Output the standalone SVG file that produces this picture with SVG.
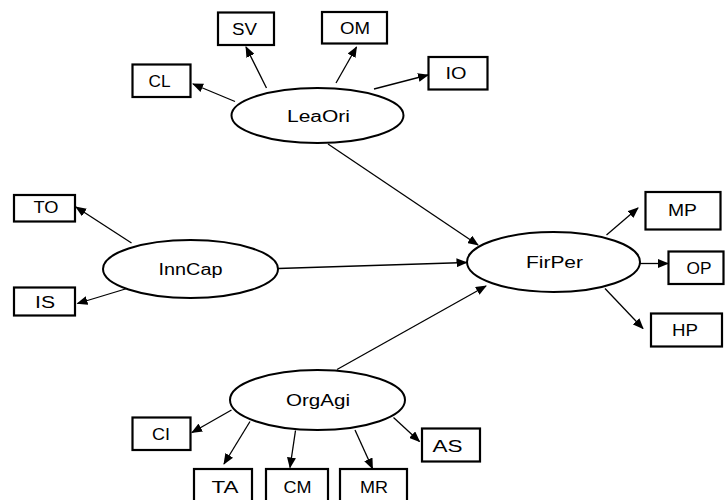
<svg xmlns="http://www.w3.org/2000/svg" width="725" height="500" viewBox="0 0 725 500">
<style>
.box{fill:#fff;stroke:#000;stroke-width:2.2}
.ell{fill:#fff;stroke:#000;stroke-width:2}
.lbl{font-family:"Liberation Sans",Arial,sans-serif;font-size:16px;fill:#000;text-anchor:middle;dominant-baseline:central}
.con line{stroke:#000;stroke-width:1.3;marker-end:url(#ah)}
</style>
<defs>
<marker id="ah" markerWidth="11" markerHeight="9" refX="10" refY="4.5" orient="auto" markerUnits="userSpaceOnUse">
<path d="M0,0 L11,4.5 L0,9 z" fill="#000"/>
</marker>
</defs>
<rect width="725" height="500" fill="#fff"/>
<g id="connectors" class="con">
<line x1="235" y1="101.5" x2="193" y2="84"/>
<line x1="266.5" y1="88" x2="246" y2="47"/>
<line x1="336" y1="83" x2="356.5" y2="47"/>
<line x1="374" y1="89" x2="428" y2="75"/>
<line x1="328" y1="144" x2="478" y2="245"/>
<line x1="131.5" y1="243" x2="76" y2="207"/>
<line x1="127" y1="288.5" x2="77.5" y2="303.5"/>
<line x1="278" y1="268.5" x2="466.5" y2="262.5"/>
<line x1="337" y1="369.5" x2="486" y2="286"/>
<line x1="606.5" y1="235" x2="638" y2="208"/>
<line x1="640" y1="263.5" x2="668" y2="263.5"/>
<line x1="605" y1="288.5" x2="643" y2="328.5"/>
<line x1="231.5" y1="410" x2="192" y2="432.5"/>
<line x1="250" y1="421.5" x2="224" y2="464"/>
<line x1="295.5" y1="430.5" x2="290" y2="467.5"/>
<line x1="355" y1="430" x2="372.5" y2="468.5"/>
<line x1="393.5" y1="417.5" x2="419.5" y2="441.5"/>
</g>
<g id="LeaOri"><ellipse class="ell" cx="317.5" cy="115.5" rx="86" ry="27.5"/><text class="lbl" x="318.5" y="116" textLength="63" lengthAdjust="spacingAndGlyphs">LeaOri</text></g>
<g id="InnCap"><ellipse class="ell" cx="190.5" cy="269" rx="87.5" ry="29"/><text class="lbl" x="190.5" y="269.5" textLength="64" lengthAdjust="spacingAndGlyphs">InnCap</text></g>
<g id="FirPer"><ellipse class="ell" cx="553.5" cy="262" rx="86.5" ry="30"/><text class="lbl" x="554.5" y="262.5" textLength="57" lengthAdjust="spacingAndGlyphs">FirPer</text></g>
<g id="OrgAgi"><ellipse class="ell" cx="317.5" cy="400" rx="87.5" ry="30"/><text class="lbl" x="318" y="400.5" textLength="64" lengthAdjust="spacingAndGlyphs">OrgAgi</text></g>
<g id="SV"><rect class="box" x="218" y="12.5" width="56" height="32.5"/><text class="lbl" x="244.5" y="29" textLength="25" lengthAdjust="spacingAndGlyphs">SV</text></g>
<g id="OM"><rect class="box" x="322" y="12" width="65" height="31.5"/><text class="lbl" x="355" y="28" textLength="30" lengthAdjust="spacingAndGlyphs">OM</text></g>
<g id="CL"><rect class="box" x="132.5" y="64.5" width="58" height="32.5"/><text class="lbl" x="159.5" y="81" textLength="22" lengthAdjust="spacingAndGlyphs">CL</text></g>
<g id="IO"><rect class="box" x="428.5" y="57" width="59" height="32.5"/><text class="lbl" x="456" y="73" textLength="21" lengthAdjust="spacingAndGlyphs">IO</text></g>
<g id="TO"><rect class="box" x="14" y="195" width="61" height="26.5"/><text class="lbl" x="46" y="207.5" textLength="25" lengthAdjust="spacingAndGlyphs">TO</text></g>
<g id="IS"><rect class="box" x="14" y="287.5" width="61" height="28"/><text class="lbl" x="45" y="302" textLength="20" lengthAdjust="spacingAndGlyphs">IS</text></g>
<g id="MP"><rect class="box" x="645.5" y="192" width="75" height="37.5"/><text class="lbl" x="682.5" y="210.5" textLength="29" lengthAdjust="spacingAndGlyphs">MP</text></g>
<g id="OP"><rect class="box" x="668.5" y="251.5" width="55" height="32.5"/><text class="lbl" x="699" y="268" textLength="25" lengthAdjust="spacingAndGlyphs">OP</text></g>
<g id="HP"><rect class="box" x="651" y="313.5" width="71" height="33"/><text class="lbl" x="685" y="330" textLength="26" lengthAdjust="spacingAndGlyphs">HP</text></g>
<g id="CI"><rect class="box" x="132.5" y="417.5" width="58" height="32.5"/><text class="lbl" x="161" y="434" textLength="18" lengthAdjust="spacingAndGlyphs">CI</text></g>
<g id="AS"><rect class="box" x="422" y="428.5" width="58" height="33"/><text class="lbl" x="447.5" y="446" textLength="30" lengthAdjust="spacingAndGlyphs">AS</text></g>
<g id="TA"><rect class="box" x="194" y="469" width="58" height="40"/><text class="lbl" x="225" y="487" textLength="27" lengthAdjust="spacingAndGlyphs">TA</text></g>
<g id="CM"><rect class="box" x="266" y="469" width="62" height="40"/><text class="lbl" x="297.5" y="487" textLength="28" lengthAdjust="spacingAndGlyphs">CM</text></g>
<g id="MR"><rect class="box" x="340" y="469" width="67" height="40"/><text class="lbl" x="374" y="487" textLength="28" lengthAdjust="spacingAndGlyphs">MR</text></g>
</svg>
